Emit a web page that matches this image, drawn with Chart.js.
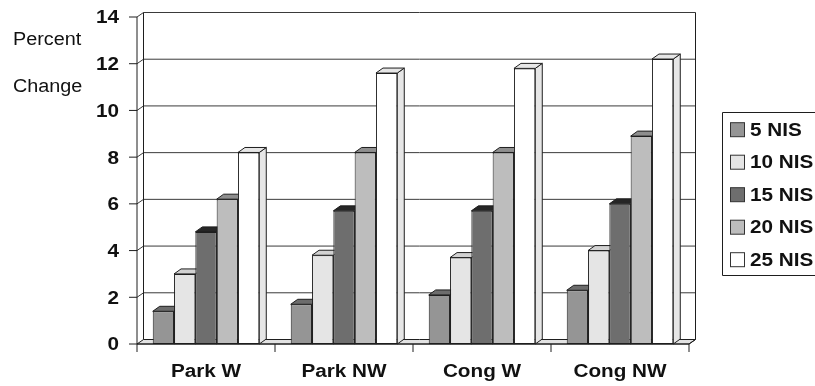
<!DOCTYPE html>
<html>
<head>
<meta charset="utf-8">
<script src="https://cdn.jsdelivr.net/npm/chart.js@4.4.1/dist/chart.umd.min.js"></script>
<style>
  html, body { margin: 0; padding: 0; background: #fff; }
</style>
</head>
<body>
<canvas id="chart-nis" width="815" height="386"></canvas>
<script>
// categories, series and values
const categories = ['Park W', 'Park NW', 'Cong W', 'Cong NW'];
const seriesNames = ['5 NIS', '10 NIS', '15 NIS', '20 NIS', '25 NIS'];
const nis5  = [1.4, 1.7, 2.1, 2.3];
const nis10 = [3.0, 3.8, 3.7, 4.0];
const nis15 = [4.8, 5.7, 5.7, 6.0];
const nis20 = [6.2, 8.2, 8.2, 8.9];
const nis25 = [8.2, 11.6, 11.8, 12.2];
const yTicks = [0, 2, 4, 6, 8, 10, 12, 14];

// greys for the front, top/side faces of the columns
const frontColors = ['#959595', '#e5e5e5', '#6e6e6e', '#bdbdbd', '#ffffff'];
const topColors   = ['#6c6c6c', '#d2d2d2', '#262626', '#8e8e8e', '#e6e6e6'];

const barDepth  = { dx: 7, dy: -5 };
const wallDepth = { dx: 6.5, dy: -4.5 };
const ink = '#1e1e1e';

const allSeries = [nis5, nis10, nis15, nis20, nis25];

function stretchText(ctx, text, x, y, align, sx) {
  ctx.save();
  ctx.translate(x, y);
  ctx.scale(sx, 1);
  ctx.textAlign = align;
  ctx.textBaseline = 'middle';
  ctx.fillText(text, 0, 0);
  ctx.restore();
}

function poly(ctx, pts, fill) {
  ctx.beginPath();
  ctx.moveTo(pts[0][0], pts[0][1]);
  for (let i = 1; i < pts.length; i++) ctx.lineTo(pts[i][0], pts[i][1]);
  ctx.closePath();
  if (fill) { ctx.fillStyle = fill; ctx.fill(); }
  ctx.stroke();
}

// walls, floor, gridlines and the top/side faces of every column
const box3d = {
  id: 'box3d',
  beforeDatasetsDraw(chart) {
    const ctx = chart.ctx;
    const a = chart.chartArea;
    const ys = chart.scales.y;
    const dx = wallDepth.dx, dy = wallDepth.dy;
    ctx.save();
    ctx.lineWidth = 1;
    ctx.strokeStyle = ink;

    // floor slab
    poly(ctx, [[a.left, a.bottom], [a.left + dx, a.bottom + dy],
               [a.right + dx, a.bottom + dy], [a.right, a.bottom]], '#e2e2e2');

    // back wall gridlines + slanted lines on the left wall
    ctx.strokeStyle = '#3a3a3a';
    yTicks.forEach(v => {
      if (v === 0) return;
      const y = ys.getPixelForValue(v);
      ctx.beginPath();
      ctx.moveTo(a.left, y);
      ctx.lineTo(a.left + dx, y + dy);
      ctx.lineTo(a.right + dx, y + dy);
      ctx.stroke();
    });

    // wall edges
    ctx.strokeStyle = ink;
    ctx.beginPath();
    ctx.moveTo(a.left, a.bottom);
    ctx.lineTo(a.left, a.top);
    ctx.moveTo(a.left + dx, a.bottom + dy);
    ctx.lineTo(a.left + dx, a.top + dy);
    ctx.moveTo(a.right + dx, a.bottom + dy);
    ctx.lineTo(a.right + dx, a.top + dy);
    ctx.stroke();

    // column tops and right sides (fronts are drawn by Chart.js on top)
    const bdx = barDepth.dx, bdy = barDepth.dy;
    chart.data.datasets.forEach((ds, di) => {
      chart.getDatasetMeta(di).data.forEach(bar => {
        const p = bar.getProps(['x', 'y', 'base', 'width'], true);
        const x0 = p.x - p.width / 2, x1 = p.x + p.width / 2;
        poly(ctx, [[x1, p.y], [x1 + bdx, p.y + bdy], [x1 + bdx, p.base + bdy], [x1, p.base]], topColors[di]);
        poly(ctx, [[x0, p.y], [x0 + bdx, p.y + bdy], [x1 + bdx, p.y + bdy], [x1, p.y]], topColors[di]);
      });
    });
    ctx.restore();
  },

  afterDraw(chart) {
    const ctx = chart.ctx;
    const a = chart.chartArea;
    const ys = chart.scales.y;
    const xs = chart.scales.x;
    ctx.save();
    ctx.strokeStyle = ink;
    ctx.fillStyle = '#111';
    ctx.lineWidth = 1;

    // y ticks and labels
    ctx.font = 'bold 18px "Liberation Sans", Arial, sans-serif';
    yTicks.forEach(v => {
      const y = ys.getPixelForValue(v);
      ctx.beginPath();
      ctx.moveTo(a.left - 8, y);
      ctx.lineTo(a.left, y);
      ctx.stroke();
      stretchText(ctx, String(v), a.left - 18, y + 1.5, 'right', 1.15);
    });

    // front floor edge, category ticks and labels
    ctx.beginPath();
    ctx.moveTo(a.left, a.bottom);
    ctx.lineTo(a.right, a.bottom);
    ctx.lineTo(a.right + wallDepth.dx, a.bottom + wallDepth.dy);
    ctx.stroke();
    const step = (a.right - a.left) / categories.length;
    for (let i = 0; i <= categories.length; i++) {
      const x = a.left + i * step;
      ctx.beginPath();
      ctx.moveTo(x, a.bottom);
      ctx.lineTo(x, a.bottom + 8);
      ctx.stroke();
    }
    categories.forEach((c, i) => {
      stretchText(ctx, c, xs.getPixelForValue(i), a.bottom + 28, 'center', 1.15);
    });

    // axis title in two lines
    ctx.font = '18px "Liberation Sans", Arial, sans-serif';
    stretchText(ctx, 'Percent', 13, 40, 'left', 1.1);
    stretchText(ctx, 'Change', 13, 87, 'left', 1.1);

    // legend box
    ctx.beginPath();
    ctx.rect(722.5, 112.5, 120, 163);
    ctx.stroke();
    ctx.font = 'bold 18px "Liberation Sans", Arial, sans-serif';
    seriesNames.forEach((name, i) => {
      const cy = 129.7 + i * 32.5;
      ctx.fillStyle = frontColors[i];
      ctx.fillRect(730.5, cy - 7, 14, 14);
      ctx.strokeStyle = '#333';
      ctx.strokeRect(730.5, cy - 7, 14, 14);
      ctx.fillStyle = '#111';
      stretchText(ctx, name, 750, cy + 1, 'left', 1.15);
    });
    ctx.restore();
  }
};

const ctx = document.getElementById('chart-nis').getContext('2d');
new Chart(ctx, {
  type: 'bar',
  data: {
    labels: categories,
    datasets: seriesNames.map((name, i) => ({
      label: name,
      data: allSeries[i],
      backgroundColor: frontColors[i],
      borderColor: ink,
      borderWidth: 1,
      borderSkipped: false
    }))
  },
  options: {
    responsive: false,
    animation: false,
    layout: { padding: { left: 137, right: 126, top: 17, bottom: 42 } },
    datasets: { bar: { categoryPercentage: 0.772, barPercentage: 1 } },
    scales: {
      x: { display: false, offset: true },
      y: { display: false, min: 0, max: 14 }
    },
    plugins: {
      legend: { display: false },
      tooltip: { enabled: false }
    }
  },
  plugins: [box3d]
});
</script>
</body>
</html>
